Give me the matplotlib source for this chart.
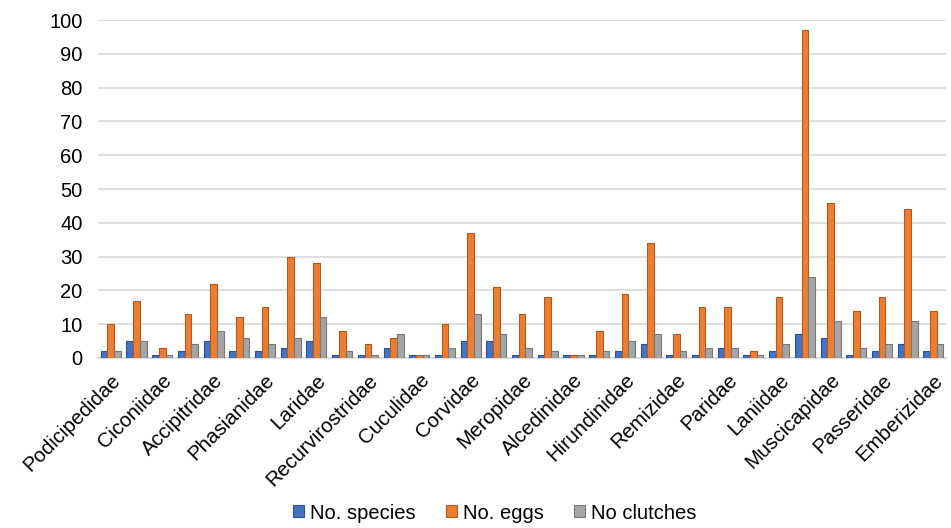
import matplotlib
matplotlib.use("Agg")
import matplotlib.pyplot as plt
import numpy as np

plt.rcParams['font.family'] = ['Liberation Sans', 'DejaVu Sans']

# Family names shown on the axis (every other group is labelled)
tick_labels = ["Podicipedidae", "Ciconiidae", "Accipitridae", "Phasianidae",
               "Laridae", "Recurvirostridae", "Cuculidae", "Corvidae",
               "Meropidae", "Alcedinidae", "Hirundinidae", "Remizidae",
               "Paridae", "Laniidae", "Muscicapidae", "Passeridae",
               "Emberizidae"]

no_species = [2, 5, 1, 2, 5, 2, 2, 3, 5, 1, 1, 3, 1, 1, 5, 5, 1,
              1, 1, 1, 2, 4, 1, 1, 3, 1, 2, 7, 6, 1, 2, 4, 2]
no_eggs = [10, 17, 3, 13, 22, 12, 15, 30, 28, 8, 4, 6, 1, 10, 37, 21, 13,
           18, 1, 8, 19, 34, 7, 15, 15, 2, 18, 97, 46, 14, 18, 44, 14]
no_clutches = [2, 5, 1, 4, 8, 6, 4, 6, 12, 2, 1, 7, 1, 3, 13, 7, 3,
               2, 1, 2, 5, 7, 2, 3, 3, 1, 4, 24, 11, 3, 4, 11, 4]

series = [("No. species", no_species, "#4472C4", "#2F528F"),
          ("No. eggs", no_eggs, "#ED7D31", "#AE5A21"),
          ("No clutches", no_clutches, "#A5A5A5", "#787878")]

fig = plt.figure(figsize=(9.51, 5.28), dpi=100)
ax = fig.add_axes([0.103, 0.322, 0.892, 0.64])

n = len(no_eggs)
x = np.arange(n)
w = 0.26
for i, (name, vals, color, edge) in enumerate(series):
    ax.bar(x + (i - 1) * w, vals, width=w, color=color, edgecolor=edge,
           linewidth=0.8, label=name, zorder=3)

ax.set_xlim(-0.5, n - 0.5)
ax.set_ylim(0, 100)
ax.set_yticks(np.arange(0, 101, 10))
ax.yaxis.grid(True, color="#D9D9D9", linewidth=1.2, zorder=0)
ax.set_axisbelow(True)
for s in ["top", "right", "left"]:
    ax.spines[s].set_visible(False)
ax.spines["bottom"].set_color("#D9D9D9")
ax.spines["bottom"].set_linewidth(1.2)
ax.tick_params(axis="y", length=0, labelsize=14.5, pad=11)
ax.tick_params(axis="x", length=0, labelsize=14.8, pad=9)

ax.set_xticks(x[::2])
ax.set_xticklabels(tick_labels, rotation=45, ha="right", rotation_mode="anchor")

fig.legend(loc="lower center", bbox_to_anchor=(0.52, -0.024), ncol=3,
           frameon=False, fontsize=14.5, handlelength=0.55, handleheight=0.55,
           handletextpad=0.3, columnspacing=1.5)

fig.savefig("out.png", dpi=100)
